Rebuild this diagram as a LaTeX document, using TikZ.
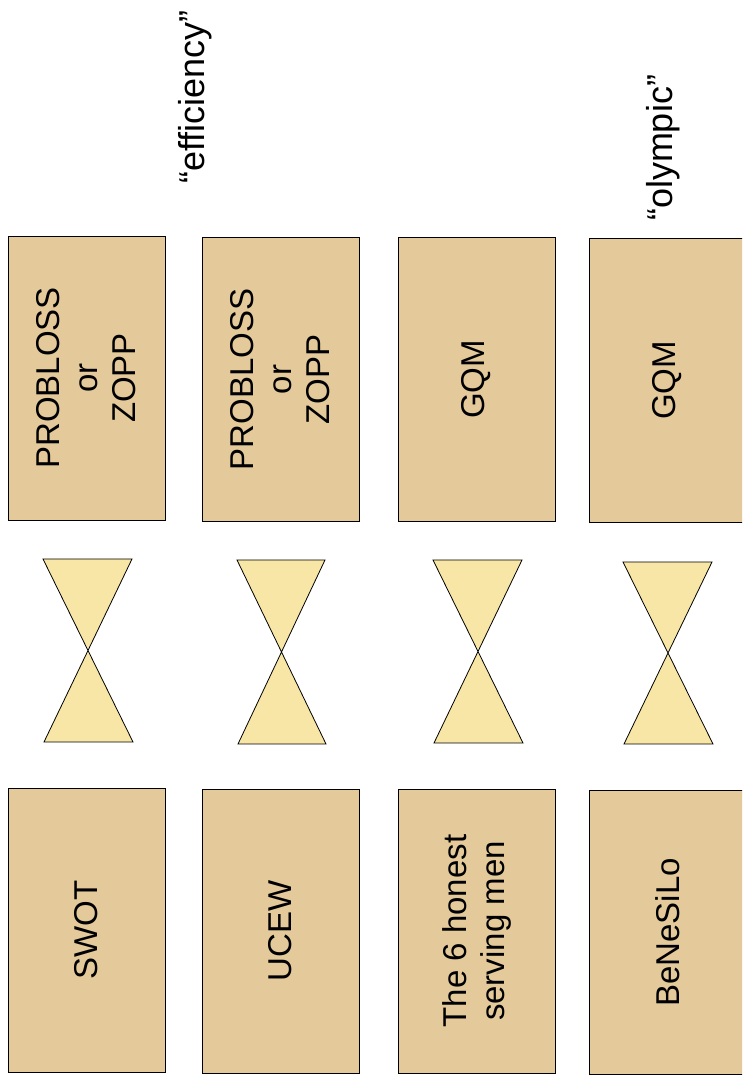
\documentclass[tikz,border=0pt]{standalone}
\usepackage{fontspec}
\setmainfont{Liberation Sans}
\definecolor{boxtan}{RGB}{228,202,155}
\definecolor{tieyellow}{RGB}{247,230,165}

\begin{document}
\begin{tikzpicture}[x=1pt,y=1pt,
  card/.style={draw=black, line width=0.8pt, fill=boxtan, rotate=90, minimum width=284pt, minimum height=157pt, inner sep=0pt, align=center, font=\fontsize{33}{38}\selectfont},
  tie/.style={draw=black, line width=0.8pt, fill=tieyellow, line join=miter},
  tag/.style={rotate=90, inner sep=0pt, font=\fontsize{36}{40}\selectfont}]
\useasboundingbox (0,0) rectangle (742,1083);
\clip (0,0) rectangle (742,1083);
\node[tag] (efficiency) at (195,986) {``efficiency''};
\node[tag] (olympic) at (663,935) {``olympic''};
\node[card] (tool1) at (86.5,705) {PROBLOSS\\or\\ZOPP};
\draw[tie] (43,524) -- (132,524) -- (44,341) -- (133,341) -- cycle;
\node[card] (input1) at (86.5,153) {SWOT};
\node[card] (tool2) at (280.5,703.5) {PROBLOSS\\or\\ZOPP};
\draw[tie] (237,523) -- (325,523) -- (238,339) -- (326,339) -- cycle;
\node[card] (input2) at (280.5,152) {UCEW};
\node[card] (tool3) at (476.5,703.5) {GQM};
\draw[tie] (433,523) -- (522,523) -- (434,340) -- (523,340) -- cycle;
\node[card] (input3) at (476.5,152) {The 6 honest\\serving men};
\node[card] (tool4) at (667.5,702.5) {GQM};
\draw[tie] (623,521) -- (712,521) -- (624,339) -- (713,339) -- cycle;
\node[card] (input4) at (667.5,150.5) {BeNeSiLo};
\end{tikzpicture}
\end{document}
